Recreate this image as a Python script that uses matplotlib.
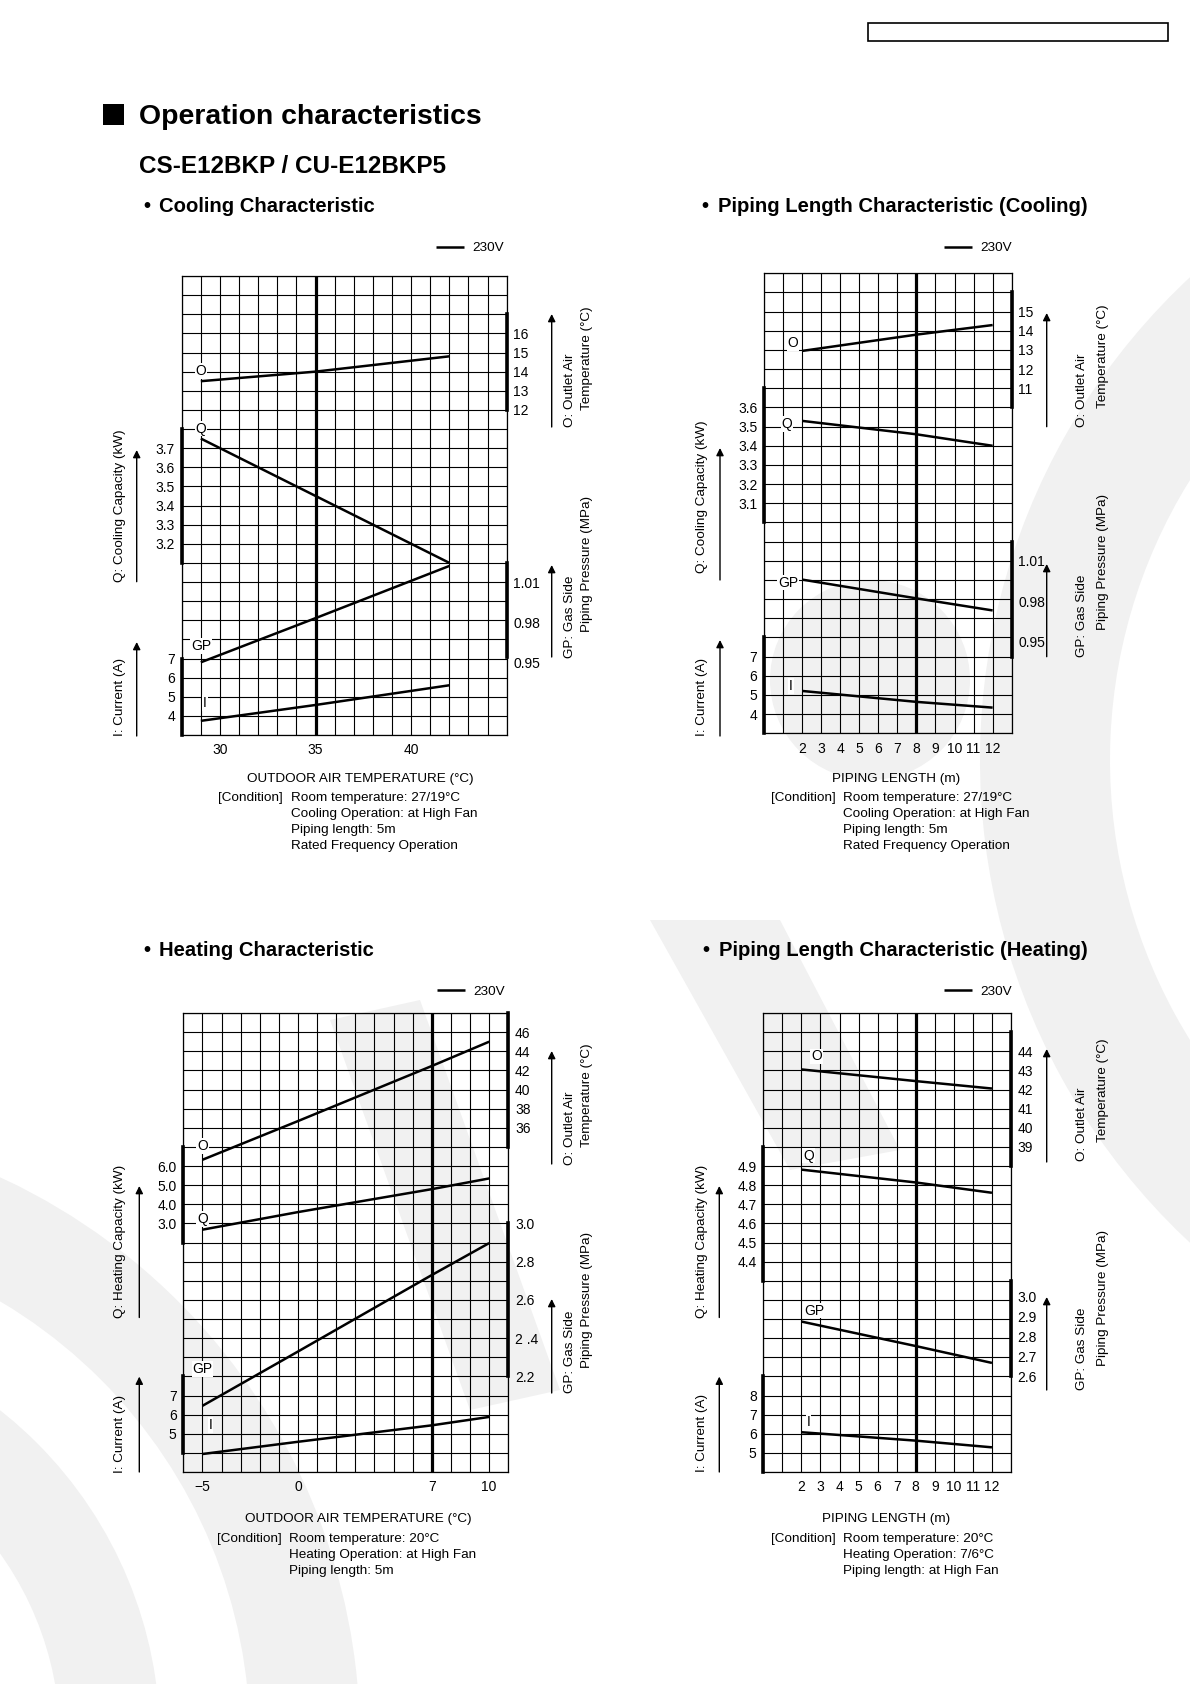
import numpy as np
import matplotlib
matplotlib.use("Agg")
import matplotlib.pyplot as plt
from matplotlib.patches import Rectangle, Wedge, Polygon, Circle

plt.rcParams['font.family'] = ['Liberation Sans', 'DejaVu Sans']

W, H = 1190, 1684

# ---- values ----
# Cooling characteristic (outdoor air temperature, degC)
cool_temp = [29, 35, 42]
cool_O = [13.5, 14.0, 14.8]
cool_Q = [3.75, 3.45, 3.10]
cool_GP = [0.950, 0.983, 1.022]
cool_I = [3.74, 4.57, 5.60]

# Piping length characteristic, cooling (m)
pipe_len = [2, 8, 12]
pipec_O = [12.95, 13.8, 14.3]
pipec_Q = [3.53, 3.46, 3.40]
pipec_GP = [0.996, 0.982, 0.973]
pipec_I = [5.21, 4.64, 4.34]

# Heating characteristic (outdoor air temperature, degC)
heat_temp = [-5, 0, 7, 10]
heat_O = [32.65, 36.7, 42.46, 45.0]
heat_Q = [2.67, 3.59, 4.79, 5.35]
heat_GP = [2.046, 2.33, 2.73, 2.897]
heat_I = [3.94, 4.58, 5.44, 5.88]

# Piping length characteristic, heating (m)
pipeh_O = [43.05, 42.44, 42.05]
pipeh_Q = [4.881, 4.814, 4.76]
pipeh_GP = [2.873, 2.751, 2.667]
pipeh_I = [6.08, 5.64, 5.29]

# tick values / labels
cool_xticks = [30, 35, 40]
pipe_xticks = list(range(2, 13))
heat_xticks = [-5, 0, 7, 10]
heat_xlabels = ['\u22125', '0', '7', '10']

cool_O_ticks = [16, 15, 14, 13, 12]
cool_Q_ticks = [3.7, 3.6, 3.5, 3.4, 3.3, 3.2]
cool_GP_ticks = [1.01, 0.98, 0.95]
cool_I_ticks = [7, 6, 5, 4]

pipec_O_ticks = [15, 14, 13, 12, 11]
pipec_Q_ticks = [3.6, 3.5, 3.4, 3.3, 3.2, 3.1]
pipec_GP_ticks = [1.01, 0.98, 0.95]
pipec_I_ticks = [7, 6, 5, 4]

heat_O_ticks = [46, 44, 42, 40, 38, 36]
heat_Q_ticks = [6.0, 5.0, 4.0, 3.0]
heat_Q_labels = ['6.0', '5.0', '4.0', '3.0']
heat_GP_ticks = [3.0, 2.8, 2.6, 2.4, 2.2]
heat_GP_labels = ['3.0', '2.8', '2.6', '2 .4', '2.2']
heat_I_ticks = [7, 6, 5]

pipeh_O_ticks = [44, 43, 42, 41, 40, 39]
pipeh_Q_ticks = [4.9, 4.8, 4.7, 4.6, 4.5, 4.4]
pipeh_GP_ticks = [3.0, 2.9, 2.8, 2.7, 2.6]
pipeh_GP_labels = ['3.0', '2.9', '2.8', '2.7', '2.6']
pipeh_I_ticks = [8, 7, 6, 5]

cool_cond = ['Room temperature: 27/19\u00b0C', 'Cooling Operation: at High Fan',
             'Piping length: 5m', 'Rated Frequency Operation']
heat_cond = ['Room temperature: 20\u00b0C', 'Heating Operation: at High Fan',
             'Piping length: 5m']
pipeh_cond = ['Room temperature: 20\u00b0C', 'Heating Operation: 7/6\u00b0C',
              'Piping length: at High Fan']

ROWS = 24
FS = 9.7


def frac(l, t, r, b):
    return [l / W, 1 - b / H, (r - l) / W, (b - t) / H]


fig = plt.figure(figsize=(W / 100, H / 100), dpi=100)
bg = fig.add_axes([0, 0, 1, 1], zorder=-10)
bg.set_xlim(0, W)
bg.set_ylim(H, 0)
bg.axis('off')

# faint watermark in the page background
wm = '#f1f1f1'
bg.add_patch(Wedge((1640, 760), 660, 120, 245, width=130, color=wm, lw=0))
bg.add_patch(Circle((870, 680), 100, color=wm, lw=0))
bg.add_patch(Polygon([(330, 1020), (420, 1000), (560, 1390), (470, 1410)], color=wm, lw=0))
bg.add_patch(Polygon([(650, 920), (780, 920), (900, 1150), (790, 1170)], color=wm, lw=0))
bg.add_patch(Wedge((-260, 1740), 620, 270, 360, width=110, color=wm, lw=0))
bg.add_patch(Wedge((-260, 1740), 420, 270, 360, width=100, color=wm, lw=0))

# page header
bg.add_patch(Rectangle((868, 22.5), 300, 18.3, fill=False, lw=1.2, ec='black'))
bg.add_patch(Rectangle((103, 104), 21, 20.5, color='black', lw=0))
bg.text(138.6, 124, 'Operation characteristics', fontsize=20.4, fontweight='bold', va='baseline')
bg.text(138.6, 173, 'CS-E12BKP / CU-E12BKP5', fontsize=17.5, fontweight='bold', va='baseline')


def heading(x, y, s):
    bg.text(x - 16, y, '\u2022', fontsize=14.6, fontweight='bold', va='baseline')
    bg.text(x, y, s, fontsize=14.6, fontweight='bold', va='baseline')


heading(159, 212.5, 'Cooling Characteristic')
heading(717.5, 212.5, 'Piping Length Characteristic (Cooling)')
heading(159, 955.5, 'Heating Characteristic')
heading(718.6, 955.5, 'Piping Length Characteristic (Heating)')


def side_label(x, y_bottom, lines, dx):
    for k, s in enumerate(lines):
        bg.text(x + k * dx, y_bottom[k], s, rotation=90, ha='center', va='bottom', fontsize=FS)


def arrow(x, y_base, y_tip):
    bg.annotate('', xy=(x, y_tip), xytext=(x, y_base),
                arrowprops=dict(arrowstyle='-|>', lw=1.0, color='black',
                                mutation_scale=11, shrinkA=0, shrinkB=0))


def chart(rect, xlim, rated, xticks, xlabels, series, legend_xy):
    l, t, r, b = rect
    ax = fig.add_axes(frac(l, t, r, b))
    ax.set_facecolor('none')
    ax.set_xlim(*xlim)
    ax.set_ylim(ROWS, 0)
    cols = np.arange(xlim[0], xlim[1] + 1)
    ax.set_xticks(cols)
    lab = dict(zip(xticks, xlabels))
    ax.set_xticklabels([lab.get(c, '') for c in cols])
    ax.set_yticks(range(ROWS + 1))
    ax.set_yticklabels([])
    ax.tick_params(length=0, labelsize=10)
    ax.tick_params(axis='x', pad=6)
    ax.grid(True, color='black', lw=0.8)
    ax.set_axisbelow(True)
    for sp in ax.spines.values():
        sp.set_linewidth(0.9)
    ax.axvline(rated, color='black', lw=2.3)

    handle = None
    for name, xs, ys, side, ref, ref_row, per_row, srows, ticks, labels, off in series:
        tw = ax.twinx()
        lo = ref - (ROWS - ref_row) * per_row
        hi = ref + ref_row * per_row
        ln, = tw.plot(xs, ys, color='black', lw=1.8, solid_capstyle='butt')
        handle = handle or ln
        for sp in tw.spines.values():
            sp.set_visible(False)
        sp = tw.spines[side]
        sp.set_visible(True)
        sp.set_linewidth(2.6)
        sp.set_bounds(ref - (srows[1] - ref_row) * per_row, ref - (srows[0] - ref_row) * per_row)
        if side == 'left':
            tw.yaxis.tick_left()
        else:
            tw.yaxis.tick_right()
        tw.set_yticks(ticks)
        tw.set_yticklabels(labels if labels else [str(v) for v in ticks])
        tw.set_ylim(lo, hi)
        tw.tick_params(axis='y', length=0, pad=4.8, labelsize=10)
        tw.annotate(name, xy=(xs[0], ys[0]), xytext=off, textcoords='offset pixels',
                    ha='center', va='center', fontsize=10,
                    bbox=dict(fc='white', ec='none', pad=0.6))
    ax.legend([handle], ['230V'], loc='center left', frameon=False,
              bbox_to_anchor=(legend_xy[0] / W, 1 - legend_xy[1] / H),
              bbox_transform=fig.transFigure, handlelength=2.1, handletextpad=0.6,
              borderpad=0, borderaxespad=0, fontsize=FS)
    return ax


# Cooling characteristic
chart((181.7, 276, 506.7, 735), (28, 45), 35, cool_xticks, [str(v) for v in cool_xticks], [
    ('O', cool_temp, cool_O, 'right', 16, 3, 1, (2, 7), cool_O_ticks, None, (0, 10)),
    ('Q', cool_temp, cool_Q, 'left', 3.7, 9, 0.1, (8, 15), cool_Q_ticks, None, (0, 10)),
    ('GP', cool_temp, cool_GP, 'right', 1.01, 16, 1 / 70, (15, 19.9), cool_GP_ticks, None, (0, 16)),
    ('I', cool_temp, cool_I, 'left', 7, 20, 1, (20, 24), cool_I_ticks, None, (4, 18)),
], (436, 248))

# Piping length, cooling
chart((764, 273.3, 1011.7, 733.3), (0, 13), 8, pipe_xticks, [str(v) for v in pipe_xticks], [
    ('O', pipe_len, pipec_O, 'right', 15, 2, 1, (1, 7), pipec_O_ticks, None, (-9, 8)),
    ('Q', pipe_len, pipec_Q, 'left', 3.6, 7, 0.1, (6, 13), pipec_Q_ticks, None, (-15, -3)),
    ('GP', pipe_len, pipec_GP, 'right', 1.01, 15, 1 / 70, (14, 20), pipec_GP_ticks, None, (-14, -3)),
    ('I', pipe_len, pipec_I, 'left', 7, 20, 1, (19, 24), pipec_I_ticks, None, (-11, 5)),
], (944, 248))

# Heating characteristic
chart((183.3, 1013, 508.3, 1472), (-6, 11), 7, heat_xticks, heat_xlabels, [
    ('O', heat_temp, heat_O, 'right', 46, 1, 2, (0, 7), heat_O_ticks, None, (0, 14)),
    ('Q', heat_temp, heat_Q, 'left', 6.0, 8, 1, (7, 12), heat_Q_ticks, heat_Q_labels, (0, 11)),
    ('GP', heat_temp, heat_GP, 'right', 3.0, 11, 0.1, (11, 19), heat_GP_ticks, heat_GP_labels, (0, 37)),
    ('I', heat_temp, heat_I, 'left', 7, 20, 1, (19, 23), heat_I_ticks, None, (8, 29)),
], (437, 991.4))

# Piping length, heating
chart((763.3, 1013, 1011, 1472), (0, 13), 8, pipe_xticks, [str(v) for v in pipe_xticks], [
    ('O', pipe_len, pipeh_O, 'right', 44, 2, 1, (1, 8), pipeh_O_ticks, None, (15, 13)),
    ('Q', pipe_len, pipeh_Q, 'left', 4.9, 8, 0.1, (7, 14), pipeh_Q_ticks, None, (7, 14)),
    ('GP', pipe_len, pipeh_GP, 'right', 2.6, 19, 0.1 / 1.05, (14, 19), pipeh_GP_ticks, pipeh_GP_labels, (13, 11)),
    ('I', pipe_len, pipeh_I, 'left', 8, 20, 1, (19, 24), pipeh_I_ticks, None, (7, 10)),
], (944, 991.4))

# axis captions, arrows and condition notes
# cooling
side_label(120, [581.7], ['Q: Cooling Capacity (kW)'], 0); arrow(136.7, 581.7, 450)
side_label(120, [736], ['I: Current (A)'], 0); arrow(136.7, 736, 642)
side_label(570, [427, 410], ['O: Outlet Air', 'Temperature (\u00b0C)'], 17); arrow(551.7, 427, 314)
side_label(570, [658, 632], ['GP: Gas Side', 'Piping Pressure (MPa)'], 17); arrow(551.7, 657, 565)
# piping cooling
side_label(701.7, [573], ['Q: Cooling Capacity (kW)'], 0); arrow(720, 580, 448)
side_label(701.7, [736], ['I: Current (A)'], 0); arrow(720, 736, 640)
side_label(1081.7, [426.7, 408], ['O: Outlet Air', 'Temperature (\u00b0C)'], 21.5); arrow(1046.7, 426.7, 313)
side_label(1081.7, [656.7, 630], ['GP: Gas Side', 'Piping Pressure (MPa)'], 21.5); arrow(1046.7, 656.7, 564)
# heating
side_label(120, [1317.5], ['Q: Heating Capacity (kW)'], 0); arrow(139.3, 1317.5, 1186)
side_label(120, [1472.7], ['I: Current (A)'], 0); arrow(139.3, 1472, 1376.6)
side_label(570, [1165, 1147], ['O: Outlet Air', 'Temperature (\u00b0C)'], 16.7); arrow(551.7, 1164, 1051)
side_label(570, [1393.4, 1368], ['GP: Gas Side', 'Piping Pressure (MPa)'], 16.7); arrow(551.7, 1393, 1299)
# piping heating
side_label(701.7, [1317.5], ['Q: Heating Capacity (kW)'], 0); arrow(719.3, 1317.5, 1186)
side_label(701.7, [1472], ['I: Current (A)'], 0); arrow(719.3, 1472, 1376.6)
side_label(1081.7, [1160.6, 1142], ['O: Outlet Air', 'Temperature (\u00b0C)'], 21.6); arrow(1046.7, 1162, 1049)
side_label(1081.7, [1390, 1366.4], ['GP: Gas Side', 'Piping Pressure (MPa)'], 21.6); arrow(1046.7, 1390, 1297)


def notes(cx, ty, title, cond_x, text_x, y0, lines):
    bg.text(cx, ty, title, ha='center', va='center', fontsize=FS)
    bg.text(cond_x, y0, '[Condition]', va='center', fontsize=FS)
    for k, s in enumerate(lines):
        bg.text(text_x, y0 + k * 16, s, va='center', fontsize=FS)


notes(360, 779.3, 'OUTDOOR AIR TEMPERATURE (\u00b0C)', 218.3, 290.7, 798.3, cool_cond)
notes(895.8, 779, 'PIPING LENGTH (m)', 770.7, 842.7, 798.3, cool_cond)
notes(358.3, 1519.3, 'OUTDOOR AIR TEMPERATURE (\u00b0C)', 216.7, 289.3, 1539, heat_cond)
notes(885.8, 1519, 'PIPING LENGTH (m)', 771, 843.3, 1539, pipeh_cond)

fig.savefig('out.png', dpi=100)
